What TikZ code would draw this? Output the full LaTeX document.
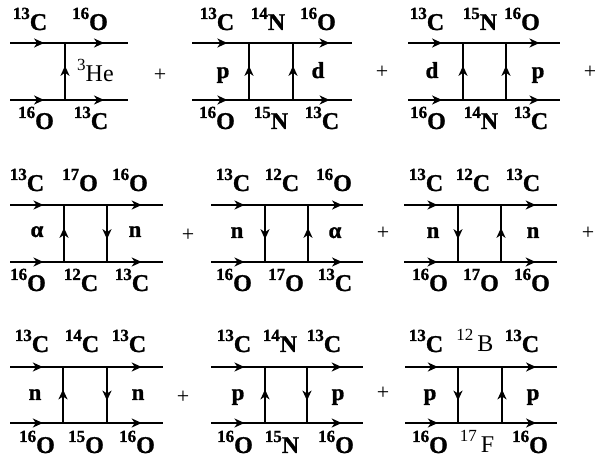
\documentclass[tikz,border=0pt]{standalone}
\usepackage{fontspec}
\setmainfont{Liberation Serif}[BoldFeatures={FakeBold=1.2}]
\usetikzlibrary{arrows.meta,decorations.markings}

% isotope symbols: bold and plain
\newcommand{\iso}[2]{\textbf{\raisebox{11pt}{\fontsize{17}{17}\selectfont #1}#2}}
\newcommand{\isor}[2]{\raisebox{11pt}{\fontsize{17}{17}\selectfont #1}\,#2}

% two-rung ladder: name, x0, rung 1, rung 2, x1, top, bottom, rung styles
\newcommand{\ladder}[9]{%
    \coordinate (#1-tl) at (#2,#6); \coordinate (#1-tr) at (#5,#6);
    \coordinate (#1-bl) at (#2,#7); \coordinate (#1-br) at (#5,#7);
    \coordinate (#1-t1) at (#3,#6); \coordinate (#1-b1) at (#3,#7);
    \coordinate (#1-t2) at (#4,#6); \coordinate (#1-b2) at (#4,#7);
    \draw[fwd] (#1-tl) -- (#1-t1); \draw[lin] (#1-t1) -- (#1-t2); \draw[fwd] (#1-t2) -- (#1-tr);
    \draw[fwd] (#1-bl) -- (#1-b1); \draw[lin] (#1-b1) -- (#1-b2); \draw[fwd] (#1-b2) -- (#1-br);
    \draw[#8] (#1-b1) -- (#1-t1);
    \draw[#9] (#1-b2) -- (#1-t2);
}

\begin{document}
\begin{tikzpicture}[
    x=1pt, y=-1pt,
    lin/.style={line width=2.5pt},
    fwd/.style={lin, postaction={decorate}, decoration={markings, mark=at position 0.62 with {\arrow{Stealth[length=10pt,width=9pt,inset=3pt]}}}},
    vup/.style={lin, postaction={decorate}, decoration={markings, mark=at position 0.6 with {\arrow{Stealth[length=10pt,width=9pt,inset=3pt]}}}},
    vdn/.style={lin, postaction={decorate}, decoration={markings, mark=at position 0.4 with {\arrowreversed{Stealth[length=10pt,width=9pt,inset=3pt]}}}},
    nuc/.style={font=\fontsize{24}{24}\selectfont, inner sep=0pt, anchor=base},
    side/.style={font=\bfseries\fontsize{23}{23}\selectfont, inner sep=0pt, anchor=base},
    plus/.style={font=\fontsize{22}{22}\selectfont, inner sep=0pt}
]
    \useasboundingbox (0,0) rectangle (595,462);

    % Row 1
    \coordinate (a-tl) at (10,43);  \coordinate (a-tr) at (128,43);
    \coordinate (a-bl) at (10,100); \coordinate (a-br) at (128,100);
    \coordinate (a-t1) at (65,43);  \coordinate (a-b1) at (65,100);
    \draw[fwd] (a-tl) -- (a-t1); \draw[fwd] (a-t1) -- (a-tr);
    \draw[fwd] (a-bl) -- (a-b1); \draw[fwd] (a-b1) -- (a-br);
    \draw[vup] (a-b1) -- (a-t1);
    \node[nuc] (a-top1) at (30,30) {\iso{13}{C}};
    \node[nuc] (a-top2) at (90,30) {\iso{16}{O}};
    \node[nuc] (a-bot1) at (36,129) {\iso{16}{O}};
    \node[nuc] (a-bot2) at (91,129) {\iso{13}{C}};
    \node[nuc, anchor=base west] (a-right) at (77,82) {\raisebox{11pt}{\fontsize{17}{17}\selectfont 3}He};
    \node[plus] (plus1) at (160,75) {+};

    \ladder{b}{192}{249}{293}{352}{43}{100}{vup}{vup}
    \node[nuc] (b-top1) at (217,30) {\iso{13}{C}};
    \node[nuc] (b-top2) at (268,30) {\iso{14}{N}};
    \node[nuc] (b-top3) at (318,30) {\iso{16}{O}};
    \node[nuc] (b-bot1) at (217,129) {\iso{16}{O}};
    \node[nuc] (b-bot2) at (271,129) {\iso{15}{N}};
    \node[nuc] (b-bot3) at (322,129) {\iso{13}{C}};
    \node[side] (b-left) at (223,78) {p};
    \node[side] (b-right) at (318,78) {d};
    \node[plus] (plus2) at (382,72) {+};

    \ladder{c}{408}{463}{506}{560}{43}{100}{vup}{vup}
    \node[nuc] (c-top1) at (427,30) {\iso{13}{C}};
    \node[nuc] (c-top2) at (480,30) {\iso{15}{N}};
    \node[nuc] (c-top3) at (522,30) {\iso{16}{O}};
    \node[nuc] (c-bot1) at (428,129) {\iso{16}{O}};
    \node[nuc] (c-bot2) at (481,129) {\iso{14}{N}};
    \node[nuc] (c-bot3) at (531,129) {\iso{13}{C}};
    \node[side] (c-left) at (432,78) {d};
    \node[side] (c-right) at (538,78) {p};
    \node[plus] (plus3) at (590,72) {+};

    % Row 2
    \ladder{d}{10}{64}{107}{163}{205}{262}{vup}{vdn}
    \node[nuc] (d-top1) at (27,191) {\iso{13}{C}};
    \node[nuc] (d-top2) at (80,191) {\iso{17}{O}};
    \node[nuc] (d-top3) at (130,191) {\iso{16}{O}};
    \node[nuc] (d-bot1) at (28,291) {\iso{16}{O}};
    \node[nuc] (d-bot2) at (81,291) {\iso{12}{C}};
    \node[nuc] (d-bot3) at (132,291) {\iso{13}{C}};
    \node[side] (d-left) at (37,237) {α};
    \node[side] (d-right) at (135,237) {n};
    \node[plus] (plus4) at (188,235) {+};

    \ladder{e}{211}{265}{308}{363}{205}{262}{vdn}{vup}
    \node[nuc] (e-top1) at (233,191) {\iso{13}{C}};
    \node[nuc] (e-top2) at (282,191) {\iso{12}{C}};
    \node[nuc] (e-top3) at (334,191) {\iso{16}{O}};
    \node[nuc] (e-bot1) at (234,291) {\iso{16}{O}};
    \node[nuc] (e-bot2) at (286,291) {\iso{17}{O}};
    \node[nuc] (e-bot3) at (335,291) {\iso{13}{C}};
    \node[side] (e-left) at (237,238) {n};
    \node[side] (e-right) at (335,238) {α};
    \node[plus] (plus5) at (383,233) {+};

    \ladder{f}{404}{458}{501}{557}{205}{262}{vdn}{vup}
    \node[nuc] (f-top1) at (426,191) {\iso{13}{C}};
    \node[nuc] (f-top2) at (473,191) {\iso{12}{C}};
    \node[nuc] (f-top3) at (523,191) {\iso{13}{C}};
    \node[nuc] (f-bot1) at (430,291) {\iso{16}{O}};
    \node[nuc] (f-bot2) at (481,291) {\iso{17}{O}};
    \node[nuc] (f-bot3) at (532,291) {\iso{16}{O}};
    \node[side] (f-left) at (433,238) {n};
    \node[side] (f-right) at (533,238) {n};
    \node[plus] (plus6) at (588,233) {+};

    % Row 3
    \ladder{g}{10}{63}{107}{163}{367}{423}{vup}{vdn}
    \node[nuc] (g-top1) at (32,352) {\iso{13}{C}};
    \node[nuc] (g-top2) at (82,352) {\iso{14}{C}};
    \node[nuc] (g-top3) at (129,352) {\iso{13}{C}};
    \node[nuc] (g-bot1) at (37,453) {\iso{16}{O}};
    \node[nuc] (g-bot2) at (86,453) {\iso{15}{O}};
    \node[nuc] (g-bot3) at (137,453) {\iso{16}{O}};
    \node[side] (g-left) at (35,400) {n};
    \node[side] (g-right) at (138,400) {n};
    \node[plus] (plus7) at (183,397) {+};

    \ladder{h}{211}{265}{307}{363}{367}{423}{vup}{vdn}
    \node[nuc] (h-top1) at (234,352) {\iso{13}{C}};
    \node[nuc] (h-top2) at (280,352) {\iso{14}{N}};
    \node[nuc] (h-top3) at (324,352) {\iso{13}{C}};
    \node[nuc] (h-bot1) at (235,453) {\iso{16}{O}};
    \node[nuc] (h-bot2) at (282,453) {\iso{15}{N}};
    \node[nuc] (h-bot3) at (336,453) {\iso{16}{O}};
    \node[side] (h-left) at (238,400) {p};
    \node[side] (h-right) at (338,400) {p};
    \node[plus] (plus8) at (383,393) {+};

    \ladder{i}{405}{458}{502}{557}{367}{423}{vdn}{vup}
    \node[nuc] (i-top1) at (426,352) {\iso{13}{C}};
    \node[nuc] (i-top2) at (475,352) {\isor{12}{B}};
    \node[nuc] (i-top3) at (522,352) {\iso{13}{C}};
    \node[nuc] (i-bot1) at (430,453) {\iso{16}{O}};
    \node[nuc] (i-bot2) at (477,453) {\isor{17}{F}};
    \node[nuc] (i-bot3) at (530,453) {\iso{16}{O}};
    \node[side] (i-left) at (430,400) {p};
    \node[side] (i-right) at (533,400) {p};
\end{tikzpicture}
\end{document}
